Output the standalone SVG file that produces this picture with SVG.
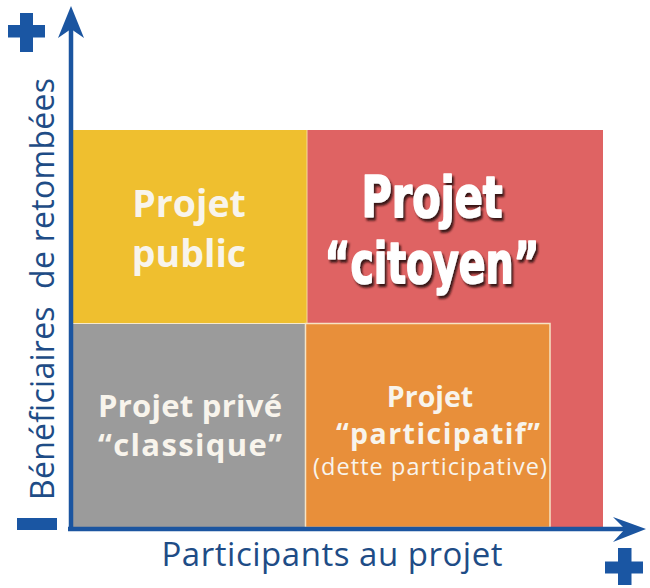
<svg xmlns="http://www.w3.org/2000/svg" width="650" height="588" viewBox="0 0 650 588">
  <defs>
    <style>
      .lbl { font-family: "Open Sans", "Liberation Sans", sans-serif; font-weight: 700; fill: #F8F4EC; text-anchor: middle; }
      .sub { font-family: "Open Sans", "Liberation Sans", sans-serif; font-weight: 500; fill: #F8F4EC; text-anchor: middle; }
      .big { font-family: "Liberation Sans Narrow", "DejaVu Sans Condensed", "Liberation Sans", sans-serif; font-weight: 700; fill: #FFFFFF; stroke: #FFFFFF; stroke-width: 1.6; stroke-linejoin: round; text-anchor: middle; }
      .axis-lbl { font-family: "Open Sans", "Liberation Sans", sans-serif; font-weight: 400; fill: #1E4C86; text-anchor: middle; }
      .axis { stroke: #1B55A0; stroke-width: 4.5; fill: none; }
      .sign { fill: #1A56A3; }
      .sep { stroke: #F6E9CC; stroke-width: 1.2; fill: none; }
    </style>
    <filter id="shadow" x="-10%" y="-10%" width="130%" height="140%">
      <feDropShadow dx="2" dy="3" stdDeviation="1" flood-color="#2A0808" flood-opacity="0.9"/>
    </filter>
  </defs>

  <rect width="650" height="588" fill="#FFFFFF"/>

  <g id="citoyen">
    <rect x="307" y="130" width="296" height="398" fill="#DF6363"/>
    <g filter="url(#shadow)">
      <text class="big" x="432" y="217" font-size="57" textLength="141" lengthAdjust="spacingAndGlyphs">Projet</text>
      <text class="big" x="432" y="283" font-size="57" textLength="215" lengthAdjust="spacingAndGlyphs">“citoyen”</text>
    </g>
  </g>

  <g id="public">
    <rect x="73" y="130" width="234" height="193.5" fill="#EFBF2F"/>
    <text class="lbl" x="189" y="217" font-size="37.5">Projet</text>
    <text class="lbl" x="189" y="267" font-size="37.5">public</text>
  </g>

  <g id="prive">
    <rect x="73" y="323.5" width="232" height="204" fill="#9B9B9B"/>
    <text class="lbl" x="190" y="417" font-size="31" textLength="184">Projet privé</text>
    <text class="lbl" x="190" y="456" font-size="31" textLength="184">“classique”</text>
  </g>

  <g id="participatif">
    <rect x="305.5" y="323.5" width="244.5" height="204" fill="#E88F3A" stroke="#F6E3C4" stroke-width="1.5"/>
    <text class="lbl" x="430" y="407" font-size="28.5">Projet</text>
    <text class="lbl" x="438" y="444" font-size="28.5" textLength="204">“participatif”</text>
    <text class="sub" x="430" y="475" font-size="23.5" textLength="234">(dette participative)</text>
  </g>

  <g id="separators">
    <line class="sep" x1="73" y1="323.5" x2="305" y2="323.5"/>
    <line x1="307" y1="130" x2="307" y2="323" stroke="#F3D9A0" stroke-width="1"/>
  </g>

  <g id="connectors">
    <line class="axis" x1="71" y1="529" x2="71" y2="26"/>
    <path d="M71,6 L84,38 L71,29 L58,38 Z" fill="#1B55A0"/>
    <line class="axis" x1="68" y1="529" x2="630" y2="529"/>
    <path d="M646,529 L613,542 L625,529 L613,517 Z" fill="#1B55A0"/>
  </g>

  <g id="signs">
    <rect class="sign" x="8" y="25" width="37" height="12.5"/>
    <rect class="sign" x="20" y="13" width="13" height="39"/>
    <rect class="sign" x="17" y="518" width="40" height="12"/>
    <rect class="sign" x="605" y="561.5" width="38" height="12"/>
    <rect class="sign" x="618" y="548" width="13.5" height="37"/>
  </g>

  <g id="axis-labels">
    <text class="axis-lbl" x="332" y="566" font-size="33" textLength="341">Participants au projet</text>
    <text class="axis-lbl" transform="translate(54,289) rotate(-90)" x="0" y="0" font-size="32" textLength="422" xml:space="preserve">Bénéficiaires  de retombées</text>
  </g>
</svg>
